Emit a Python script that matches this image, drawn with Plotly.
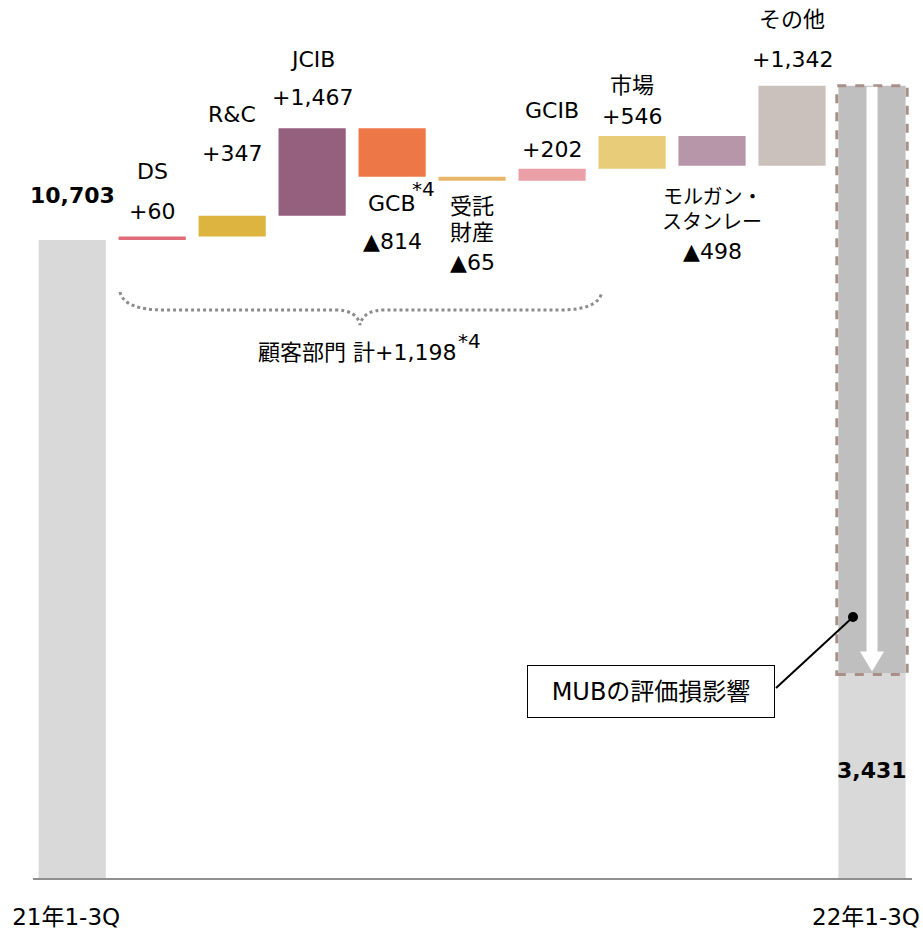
import plotly.graph_objects as go

# ---------------- data ----------------
period_labels = ["21年1-3Q", "22年1-3Q"]
start_value = 10703
step_labels = [["DS"], ["R&C"], ["JCIB"], ["GCB"], ["受託", "財産"], ["GCIB"], ["市場"],
               ["モルガン・", "スタンレー"], ["その他"]]
step_values = [60, 347, 1467, -814, -65, 202, 546, -498, 1342]
end_value = 3431
segment_total_label = "顧客部門 計"
segment_total = 1198
note_mark = "*4"
mub_label = "MUBの評価損影響"

# ---------------- style ----------------
FONT = "DejaVu Sans, Noto Sans CJK JP, sans-serif"
step_colors = ["#e06c7a", "#deb440", "#95607e", "#ee7748", "#e8b86a",
               "#eba0a8", "#e8cc7a", "#b896aa", "#cbc1bc"]
base_color = "#d9d9d9"
mub_color = "#bfbfbf"
# pixel y-shifts of the label lines (name lines..., value) relative to the bar end
name_shifts = [[65], [101], [69], [-27], [-26, -52], [58], [51], [-31, -56], [66]]
name_sizes = [22, 22, 22, 22, 22, 22, 22, 20, 22]
value_shifts = [25, 62, 31, -65, -82, 19, 20, -86, 26]
BW = 0.84
YMAX = 14729
PLOT_L, PLOT_R, PLOT_T, PLOT_B = 33, 912, 0, 878

def PX(px):  # pixel x -> paper
    return (px - PLOT_L) / (PLOT_R - PLOT_L)

def PY(py):  # pixel y -> paper
    return (PLOT_B - py) / (PLOT_B - PLOT_T)

upp = YMAX / (PLOT_B - PLOT_T)  # data units per pixel

# ---------------- computation ----------------
n = len(step_values)
bases, heights = [], []
cum = start_value
for v in step_values:
    bases.append(cum if v >= 0 else cum + v)
    heights.append(abs(v))
    cum += v
total_before = cum
mub_impact = end_value - total_before
x_steps = list(range(1, n + 1))
x_end = n + 1

fig = go.Figure()
fig.add_trace(go.Bar(x=[0], y=[start_value], width=BW, marker_color=base_color,
                     marker_line_width=0, hoverinfo="skip"))
fig.add_trace(go.Bar(x=x_steps, y=heights, base=bases, width=BW, marker_color=step_colors,
                     marker_line_width=0, hoverinfo="skip"))
fig.add_trace(go.Bar(x=[x_end], y=[end_value], width=BW, marker_color=base_color,
                     marker_line_width=0, hoverinfo="skip"))
fig.add_trace(go.Bar(x=[x_end], y=[-mub_impact], base=[end_value], width=BW,
                     marker_color=mub_color, marker_line_width=0, hoverinfo="skip"))

ann = []
def label(x, y, text, ys, size=22, bold=False, xs=0):
    ann.append(dict(x=x, y=y, xref="x", yref="y", text=(f"<b>{text}</b>" if bold else text),
                    showarrow=False, yshift=ys, xshift=xs, yanchor="middle", xanchor="center",
                    font=dict(family=FONT, size=size, color="#000000")))

def fmt(v):
    return (f"+{v:,}" if v >= 0 else f"▲{abs(v):,}")

label(0, start_value, f"{start_value:,}", 44, bold=True)
for i, v in enumerate(step_values):
    x = i + 1
    ref = bases[i] + heights[i] if v >= 0 else bases[i]
    for line, s in zip(step_labels[i], name_shifts[i]):
        label(x, ref, line, s, size=name_sizes[i])
    label(x, ref, fmt(v), value_shifts[i])
    if step_labels[i][0] == "GCB":
        label(x, ref, note_mark, -12, size=20, xs=31)
label(x_end, end_value, f"{end_value:,}", -97, bold=True)

# brace label
ann.append(dict(x=PX(357), y=PY(352), xref="paper", yref="paper",
                text=f"{segment_total_label}+{segment_total:,}", showarrow=False,
                yanchor="middle", xanchor="center", font=dict(family=FONT, size=22, color="#000")))
ann.append(dict(x=PX(469), y=PY(341), xref="paper", yref="paper",
                text=note_mark, showarrow=False,
                yanchor="middle", xanchor="center", font=dict(family=FONT, size=20, color="#000")))
# MUB box
ann.append(dict(x=PX(651), y=PY(691), xref="paper", yref="paper", text=mub_label,
                showarrow=False, yanchor="middle", xanchor="center",
                width=230, height=35, borderpad=8, bordercolor="#000", borderwidth=1,
                bgcolor="#ffffff", font=dict(family=FONT, size=24, color="#000")))

shapes = []
# dashed outline around MUB drop
shapes.append(dict(type="rect", xref="x", yref="y", x0=x_end - 0.44, x1=x_end + 0.44,
                   y0=end_value - 1 * upp, y1=total_before,
                   line=dict(color="#a89088", width=3, dash="dash"),
                   fillcolor="rgba(0,0,0,0)"))
# white arrow
xc = x_end
hs, hh = 5.5 / 80, 12 / 80
tip = end_value + 2 * upp
hb = tip + 20 * upp
top = total_before - 1 * upp
path = (f"M {xc-hs},{top} L {xc+hs},{top} L {xc+hs},{hb} L {xc+hh},{hb} L {xc},{tip} "
        f"L {xc-hh},{hb} L {xc-hs},{hb} Z")
shapes.append(dict(type="path", xref="x", yref="y", path=path, fillcolor="#ffffff",
                   line=dict(width=0)))
# leader line and dot
shapes.append(dict(type="line", xref="paper", yref="paper", x0=PX(776), y0=PY(688),
                   x1=PX(853), y1=PY(617), line=dict(color="#000", width=2)))
r = 5
shapes.append(dict(type="circle", xref="paper", yref="paper", x0=PX(853 - r), x1=PX(853 + r),
                   y0=PY(617 + r), y1=PY(617 - r), fillcolor="#000", line=dict(width=0)))
# curly brace (dotted)
bp = (f"M {PX(120)},{PY(292)} Q {PX(124)},{PY(310)} {PX(165)},{PY(310)} "
      f"L {PX(335)},{PY(310)} Q {PX(357)},{PY(310)} {PX(360)},{PY(325)} "
      f"Q {PX(363)},{PY(310)} {PX(385)},{PY(310)} L {PX(560)},{PY(310)} "
      f"Q {PX(598)},{PY(310)} {PX(602)},{PY(292)}")
shapes.append(dict(type="path", xref="paper", yref="paper", path=bp,
                   line=dict(color="#8c8c8c", width=3, dash="dot")))

fig.update_layout(
    width=923, height=930, barmode="overlay", showlegend=False,
    paper_bgcolor="#ffffff", plot_bgcolor="#ffffff",
    margin=dict(l=PLOT_L, r=923 - PLOT_R, t=PLOT_T, b=930 - PLOT_B),
    annotations=ann, shapes=shapes,
    xaxis=dict(range=[-0.49, x_end + 0.5], tickvals=[0, x_end], ticktext=period_labels,
               showgrid=False, zeroline=False, showline=True, linecolor="#8f8f8f", linewidth=2,
               ticks="", ticklabelstandoff=17, ticklabelshift=-6, automargin=False,
               tickfont=dict(family=FONT, size=23, color="#000")),
    yaxis=dict(range=[0, YMAX], visible=False, showgrid=False, zeroline=False),
)
fig.write_html("out.html")
